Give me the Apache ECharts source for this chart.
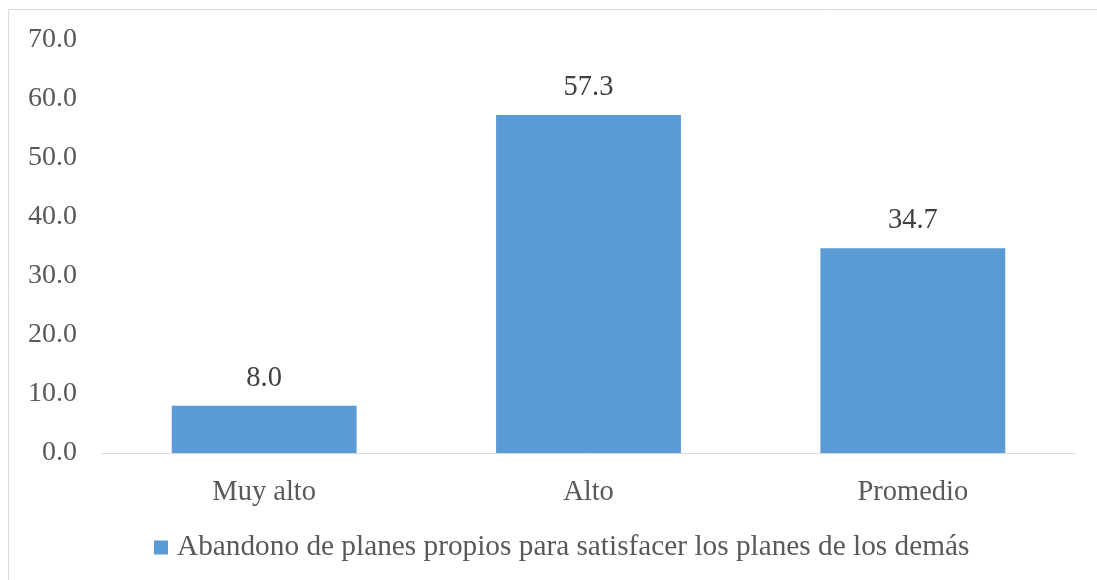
<!DOCTYPE html>
<html><head><meta charset="utf-8">
<script src="https://cdn.jsdelivr.net/npm/echarts@6/dist/echarts.min.js"></script>
<style>html,body{margin:0;padding:0;background:#fff}#c{width:1097px;height:580px}</style>
</head><body><div id="c"></div>
<script>
const categories = ["Muy alto", "Alto", "Promedio"];
const values = [8.0, 57.3, 34.7];
const seriesName = "Abandono de planes propios para satisfacer los planes de los demás";
const yTicks = [0, 10, 20, 30, 40, 50, 60, 70];

const font = "'Liberation Serif', 'Times New Roman', serif";
const chart = echarts.init(document.getElementById('c'));
chart.setOption({
  animation: false,
  graphic: [{
    type: 'rect', silent: true,
    shape: {x: 8.5, y: 9.5, width: 1200, height: 700},
    style: {fill: 'none', stroke: '#d9d9d9', lineWidth: 1}
  }],
  grid: {left: 102, right: 22, top: 40, bottom: 127, containLabel: false},
  legend: {
    bottom: 13, left: 149,
    itemWidth: 14, itemHeight: 14, itemGap: 10,
    icon: 'rect',
    textStyle: {fontFamily: font, fontSize: 29.3, color: '#595959', padding: [0, 0, 0, 4]},
    data: [seriesName]
  },
  xAxis: {
    type: 'category', data: categories,
    axisLine: {lineStyle: {color: '#d9d9d9', width: 1}},
    axisTick: {show: false},
    axisLabel: {fontFamily: font, fontSize: 28.5, color: '#595959', margin: 25}
  },
  yAxis: {
    type: 'value', min: yTicks[0], max: yTicks[yTicks.length - 1], interval: 10,
    axisLine: {show: false}, axisTick: {show: false},
    splitLine: {show: false},
    axisLabel: {fontFamily: font, fontSize: 28, color: '#595959', margin: 25,
      formatter: v => v.toFixed(1)}
  },
  series: [{
    name: seriesName, type: 'bar', data: values,
    barWidth: '57%',
    itemStyle: {color: '#5b9bd5'},
    label: {show: true, position: 'top', distance: 13,
      fontFamily: font, fontSize: 28.5, color: '#404040',
      formatter: p => p.value.toFixed(1)}
  }]
});
</script></body></html>
